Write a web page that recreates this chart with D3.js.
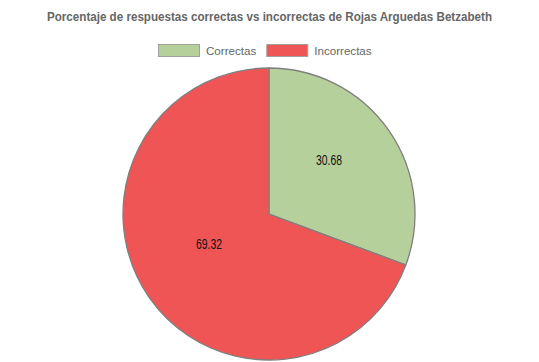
<!DOCTYPE html>
<html>
<head>
<meta charset="utf-8">
<script src="https://cdn.jsdelivr.net/npm/d3@7"></script>
<style>
  body { margin: 0; background: #fff; }
  svg { display: block; }
</style>
</head>
<body>
<div id="viz"></div>
<script>
let labels = ["Correctas", "Incorrectas"];
let values = [30.68, 69.32];
let colors = ["#b5d09b", "#f05555"];

let width = 539, height = 362;
let font = "Helvetica Neue, Helvetica, Arial, sans-serif";

let svg = d3.select("#viz").append("svg")
    .attr("width", width)
    .attr("height", height);

// title
svg.append("text")
    .attr("x", width / 2)
    .attr("y", 21)
    .attr("text-anchor", "middle")
    .attr("textLength", 445)
    .attr("lengthAdjust", "spacingAndGlyphs")
    .style("font-family", font)
    .style("font-size", "12px")
    .style("font-weight", "bold")
    .style("fill", "#666")
    .text("Porcentaje de respuestas correctas vs incorrectas de Rojas Arguedas Betzabeth");

// legend
let box_w = 41, box_h = 12, gap = 10;
let legend = svg.append("g");
let x_pos = 0;
let items = legend.selectAll("g")
    .data(labels)
    .enter()
    .append("g");

items.append("text")
    .attr("y", 54.5)
    .style("font-family", font)
    .style("font-size", "11.6px")
    .style("fill", "#666")
    .text(d => d);

items.each(function(d, i){
    let g = d3.select(this);
    let tw = g.select("text").node().getComputedTextLength();
    g.attr("transform", "translate(" + x_pos + ",0)");
    g.select("text").attr("x", box_w + 7);
    g.insert("rect", "text")
        .attr("x", 0.5)
        .attr("y", 44.5)
        .attr("width", box_w)
        .attr("height", box_h)
        .attr("fill", colors[i])
        .attr("stroke", "#a0a0a0")
        .attr("stroke-width", 1);
    x_pos += box_w + 7 + tw + gap;
});
// centred with the trailing padding, like the original
legend.attr("transform", "translate(" + Math.round((width - x_pos) / 2) + ",0)");

// pie
let cx = 269, cy = 214, radius = 146;
let pie = d3.pie().sort(null).value(d => d);
let arc = d3.arc().innerRadius(0).outerRadius(radius);
let label_arc = d3.arc().innerRadius(radius / 2).outerRadius(radius / 2);

let chart = svg.append("g")
    .attr("transform", "translate(" + cx + "," + cy + ")");

let slices = chart.selectAll("path")
    .data(pie(values))
    .enter()
    .append("path")
    .attr("d", arc)
    .attr("fill", (d, i) => colors[i])
    .attr("stroke", "#7f7f7f")
    .attr("stroke-width", 1.3);

chart.selectAll(".pie_label")
    .data(pie(values))
    .enter()
    .append("text")
    .attr("class", "pie_label")
    .attr("transform", d => {
        let c = label_arc.centroid(d);
        return "translate(" + c[0] + "," + (c[1] - 12) + ")";
    })
    .attr("text-anchor", "middle")
    .attr("dominant-baseline", "central")
    .attr("textLength", 26)
    .attr("lengthAdjust", "spacingAndGlyphs")
    .style("font-family", "Liberation Sans Narrow, Arial, sans-serif")
    .style("font-size", "14px")
    .style("fill", "#111")
    .text(d => d.data.toFixed(2));
</script>
</body>
</html>
